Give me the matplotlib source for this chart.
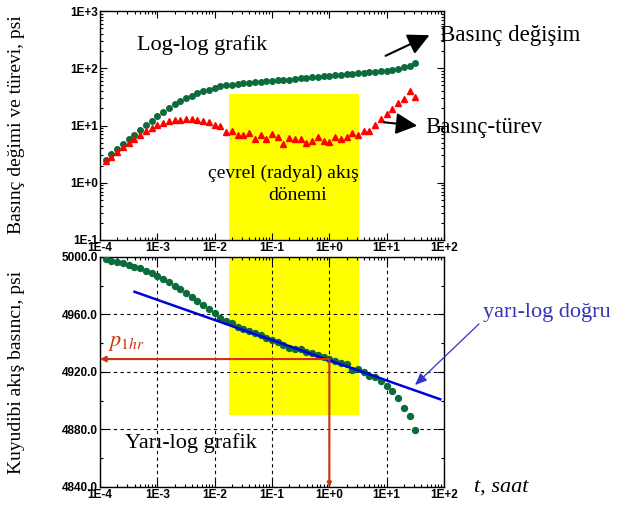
import math
import matplotlib
matplotlib.use("Agg")
import matplotlib.pyplot as plt
from matplotlib.patches import FancyArrowPatch
from matplotlib.ticker import FixedLocator, LogLocator, MultipleLocator, FuncFormatter, NullFormatter

# zaman, saat
t = [1.26e-4, 1.58e-4, 2.00e-4, 2.51e-4, 3.16e-4, 3.98e-4, 5.01e-4, 6.31e-4, 7.94e-4, 1.00e-3,
     1.26e-3, 1.58e-3, 2.00e-3, 2.51e-3, 3.16e-3, 3.98e-3, 5.01e-3, 6.31e-3, 7.94e-3, 1.00e-2,
     1.26e-2, 1.58e-2, 2.00e-2, 2.51e-2, 3.16e-2, 3.98e-2, 5.01e-2, 6.31e-2, 7.94e-2, 1.00e-1,
     1.26e-1, 1.58e-1, 2.00e-1, 2.51e-1, 3.16e-1, 3.98e-1, 5.01e-1, 6.31e-1, 7.94e-1, 1.00,
     1.26, 1.58, 2.00, 2.51, 3.16, 3.98, 5.01, 6.31, 7.94, 10.0,
     12.6, 15.8, 20.0, 25.1, 31.6]

# basinc degisimi (log-log)
dp = [2.5, 3.19, 3.9, 4.7, 5.8, 6.85, 8.4, 10.1, 12.2, 14.5,
      17.1, 20.3, 23.5, 27.2, 30.3, 33.3, 36.6, 39.6, 42.4, 45.9,
      48.5, 50.5, 51.8, 53.2, 54.7, 56.1, 56.9, 58.3, 60.0, 60.8,
      61.5, 62.3, 63.5, 65.0, 66.5, 68.5, 70.0, 71.5, 73.0, 74.5,
      76.0, 77.5, 78.5, 80.0, 81.5, 83.0, 84.5, 86.0, 88.0, 90.5,
      93.0, 97.0, 104.0, 111.0, 122.0]

# basinc turevi
dpd = [2.41, 2.86, 3.5, 4.23, 4.9, 5.76, 6.85, 8.05, 9.2, 10.1,
       11.2, 12.0, 12.5, 12.5, 13.0, 12.8, 12.5, 12.0, 11.4, 10.1,
       9.7, 7.7, 8.05, 6.77, 6.77, 7.4, 5.9, 6.7, 5.8, 7.05,
       6.32, 4.72, 6.15, 5.83, 5.83, 4.9, 5.46, 6.24, 5.46, 5.1,
       6.4, 5.9, 6.24, 7.43, 6.85, 7.95, 7.95, 10.2, 13.0, 15.9,
       19.2, 24.8, 29.5, 40.2, 31.6]

# kuyudibi akis basinci (yari-log)
pwf = [4998.4, 4997.4, 4996.5, 4995.6, 4994.4, 4993.3, 4992.1, 4990.5, 4988.6, 4986.8,
       4984.5, 4982.4, 4980.0, 4977.5, 4975.2, 4972.4, 4969.6, 4966.4, 4963.6, 4960.8,
       4957.8, 4955.5, 4953.9, 4951.5, 4949.9, 4948.5, 4947.1, 4945.5, 4943.5, 4942.2,
       4940.6, 4938.8, 4936.9, 4936.2, 4936.0, 4933.7, 4933.0, 4931.8, 4930.6, 4928.8,
       4927.7, 4926.3, 4925.4, 4921.6, 4922.1, 4920.2, 4917.4, 4916.3, 4913.7, 4910.5,
       4907.0, 4901.9, 4894.7, 4889.6, 4879.4]

# yari-log dogru uc noktalari
line_t = [4.0e-4, 86.0]
line_p = [4975.8, 4901.0]

# radyal akis donemi
radial_t = [0.0178, 3.3]
radial_top = 35.6
radial_bottom = 4890.0

t1hr = 1.0
p1hr = 4929.0

W, H = 632, 508
serif = "Liberation Serif"

fig = plt.figure(figsize=(W / 100, H / 100), dpi=100)
fig.patch.set_facecolor("white")


def px(x, y):
    # piksel (sol-ust) -> figure fraction
    return (x / W, 1 - y / H)


def log_label(v, pos):
    return "1E%+d" % round(math.log10(v))


ax1 = fig.add_axes([100 / W, 1 - 240 / H, 344 / W, 229 / H])
ax2 = fig.add_axes([100 / W, 1 - 487 / H, 344 / W, 230 / H])

green = "#0B6B3A"
red = "#FF0000"

# ust grafik
ax1.fill_between(radial_t, 0.1, radial_top, color="#FFFF00", lw=0, zorder=0)
ax1.plot(t, dp, "o", color=green, ms=4.0, mec=green, zorder=3)
ax1.plot(t, dpd, "^", color=red, ms=5, mec=red, zorder=3)
ax1.set_xscale("log")
ax1.set_yscale("log")
ax1.set_xlim(1e-4, 1e2)
ax1.set_ylim(0.1, 1000)

# alt grafik
ax2.fill_between(radial_t, radial_bottom, 5000, color="#FFFF00", lw=0, zorder=0)
ax2.plot(t, pwf, "o", color=green, ms=4.3, mec=green, zorder=3)
ax2.plot(line_t, line_p, "-", color="#0000DD", lw=1.8, zorder=4)
ax2.set_xscale("log")
ax2.set_xlim(1e-4, 1e2)
ax2.set_ylim(4840, 5000)
ax2.yaxis.set_major_locator(MultipleLocator(40))
ax2.yaxis.set_minor_locator(MultipleLocator(20))
ax2.yaxis.set_major_formatter(FuncFormatter(lambda v, p: "%.1f" % v))
ax2.grid(True, which="major", color="black", ls=(0, (3, 3)), lw=0.8)

ax1.yaxis.set_major_locator(FixedLocator([0.1, 1, 10, 100, 1000]))
ax1.yaxis.set_minor_locator(LogLocator(base=10, subs=range(2, 10), numticks=20))
ax1.yaxis.set_minor_formatter(NullFormatter())
ax1.yaxis.set_major_formatter(FuncFormatter(log_label))

for ax in (ax1, ax2):
    ax.xaxis.set_major_locator(FixedLocator([1e-4, 1e-3, 1e-2, 1e-1, 1, 10, 100]))
    ax.xaxis.set_minor_locator(LogLocator(base=10, subs=range(2, 10), numticks=20))
    ax.xaxis.set_minor_formatter(NullFormatter())
    ax.xaxis.set_major_formatter(FuncFormatter(log_label))
    ax.tick_params(which="both", direction="in", top=True, right=True, width=0.8, pad=1.5)
    ax.tick_params(which="major", length=5)
    ax.tick_params(which="minor", length=2.5)
    for lab in ax.get_xticklabels() + ax.get_yticklabels():
        lab.set_fontfamily("Liberation Sans")
        lab.set_fontweight("bold")
        lab.set_fontsize(8.5)
    for s in ax.spines.values():
        s.set_linewidth(1.0)

# p1hr oklari
orange = "#CC3311"
ax2.annotate("", xy=(1e-4, p1hr), xytext=(t1hr, p1hr),
             arrowprops=dict(arrowstyle="-|>", color=orange, lw=1.5, mutation_scale=8,
                             shrinkA=0, shrinkB=0), zorder=5)
ax2.annotate("", xy=(t1hr, 4840), xytext=(t1hr, p1hr),
             arrowprops=dict(arrowstyle="-|>", color=orange, lw=1.5, mutation_scale=6,
                             shrinkA=0, shrinkB=0), zorder=5)
fig.text(*px(108, 343), r"$p_{1hr}$", color=orange, fontsize=16, va="center", ha="left",
         math_fontfamily="stix")

# metinler
fig.text(*px(137, 45), "Log-log grafik", family=serif, fontsize=16, va="center")
fig.text(*px(440, 36), "Basınç değişim", family=serif, fontsize=16.5, va="center")
fig.text(*px(425, 128), "Basınç-türev", family=serif, fontsize=16.5, va="center")
fig.text(*px(283, 173), "çevrel (radyal) akış", family=serif, fontsize=14, va="center", ha="center")
fig.text(*px(298, 195), "dönemi", family=serif, fontsize=14, va="center", ha="center")
fig.text(*px(483, 312), "yarı-log doğru", family=serif, fontsize=16, va="center", color="#3333BB")
fig.text(*px(125, 443), "Yarı-log grafik", family=serif, fontsize=16, va="center")
fig.text(*px(474, 487), "t, saat", family=serif, style="italic", fontsize=16, va="center")
fig.text(*px(17, 125), "Basınç değimi ve türevi, psi", family=serif, fontsize=14,
         rotation=90, va="center", ha="center")
fig.text(*px(17, 372), "Kuyudibi akış basıncı, psi", family=serif, fontsize=14,
         rotation=90, va="center", ha="center")

# oklar
fig.add_artist(FancyArrowPatch(px(383, 57), px(432, 34), transform=fig.transFigure,
               arrowstyle="-|>,head_length=1.0,head_width=0.5", mutation_scale=13,
               color="black", lw=1.5))
fig.add_artist(FancyArrowPatch(px(381, 122), px(420, 126), transform=fig.transFigure,
               arrowstyle="-|>,head_length=1.0,head_width=0.5", mutation_scale=13,
               color="black", lw=1.5))
fig.add_artist(FancyArrowPatch(px(481, 322), px(413, 387), transform=fig.transFigure,
               arrowstyle="-|>,head_length=0.6,head_width=0.25", mutation_scale=12,
               color="#3333CC", lw=0.9))

fig.savefig("out.png", dpi=100)
